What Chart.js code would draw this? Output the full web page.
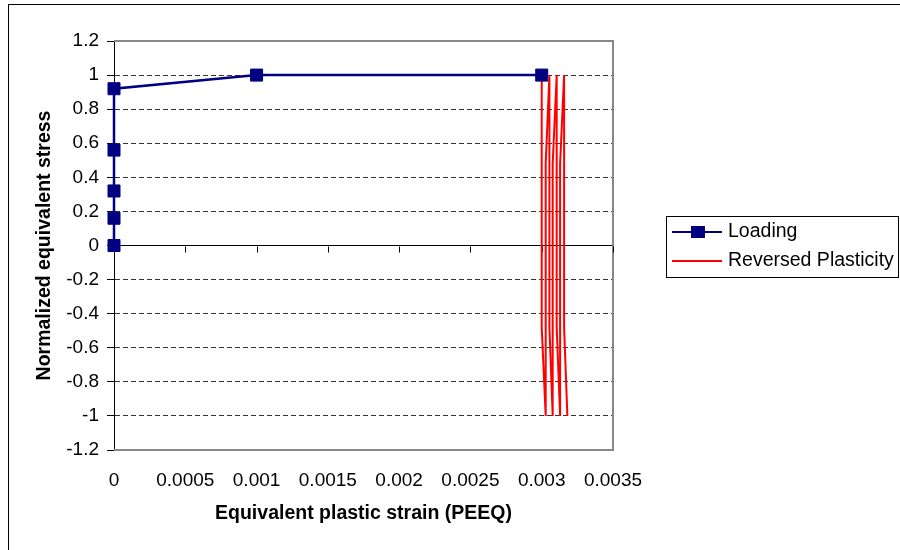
<!DOCTYPE html>
<html>
<head>
<meta charset="utf-8">
<script src="https://cdn.jsdelivr.net/npm/chart.js@4.4.1/dist/chart.umd.min.js"></script>
<style>
  html, body { margin: 0; padding: 0; background: #fff; }
  #wrap { width: 900px; height: 550px; }
</style>
</head>
<body>
<div id="wrap"><canvas id="chart" width="900" height="550"></canvas></div>
<script>
// Datos
const loadingX = [0, 0, 0, 0, 0, 0.001, 0.003];
const loadingY = [0, 0.16, 0.32, 0.56, 0.92, 1, 1];

const reversedX = [0.003, 0.003, 0.003028, 0.003028, 0.003054, 0.003054, 0.003077, 0.003077,
                   0.003105, 0.003105, 0.003129, 0.003129, 0.003157, 0.003157, 0.00318];
const reversedY = [1, -0.48, -1, 0.48, 1, -0.48, -1, 0.48, 1, -0.48, -1, 0.48, 1, -0.48, -1];

const seriesNames = ['Loading', 'Reversed Plasticity'];
const xTitle = 'Equivalent plastic strain (PEEQ)';
const yTitle = 'Normalized equivalent stress';

const FONT = "'Liberation Sans', Arial, sans-serif";
const navy = '#000080';
const red = '#ff0000';

function toPoints(xs, ys) {
  return xs.map((x, i) => ({ x: x, y: ys[i] }));
}

// Fondo, marco exterior, borde del área y marcas sobre el eje y=0
const framePlugin = {
  id: 'frame',
  beforeDraw(chart) {
    const ctx = chart.ctx;
    ctx.save();
    ctx.fillStyle = '#fff';
    ctx.fillRect(0, 0, chart.width, chart.height);
    ctx.strokeStyle = '#000';
    ctx.lineWidth = 1;
    ctx.strokeRect(8.5, 4.5, 1000, 1000);
    ctx.restore();
  },
  beforeDatasetsDraw(chart) {
    const { ctx, chartArea: a, scales } = chart;
    ctx.save();
    ctx.strokeStyle = '#888';
    ctx.lineWidth = 2;
    ctx.beginPath();
    ctx.moveTo(a.left, a.top);
    ctx.lineTo(a.right, a.top);
    ctx.lineTo(a.right, a.bottom);
    ctx.lineTo(a.left, a.bottom);
    ctx.stroke();
    // marcas del eje x sobre la línea cero
    const y0 = Math.round(scales.y.getPixelForValue(0)) + 0.5;
    ctx.strokeStyle = '#000';
    ctx.lineWidth = 1;
    ctx.beginPath();
    scales.x.ticks.forEach(t => {
      const px = Math.round(scales.x.getPixelForValue(t.value)) + 0.5;
      ctx.moveTo(px, y0);
      ctx.lineTo(px, y0 + 6);
    });
    ctx.stroke();
    ctx.restore();
  },
  afterDraw(chart) {
    const ctx = chart.ctx;
    ctx.save();
    ctx.strokeStyle = '#000';
    ctx.lineWidth = 1;
    ctx.strokeRect(666.5, 216.5, 232, 61);
    // muestra Loading
    ctx.strokeStyle = navy;
    ctx.lineWidth = 2;
    ctx.beginPath();
    ctx.moveTo(672, 232);
    ctx.lineTo(722, 232);
    ctx.stroke();
    ctx.fillStyle = navy;
    ctx.fillRect(691, 226, 14, 12);
    // muestra Reversed Plasticity
    ctx.strokeStyle = red;
    ctx.beginPath();
    ctx.moveTo(672, 261);
    ctx.lineTo(722, 261);
    ctx.stroke();
    ctx.fillStyle = '#000';
    ctx.font = '19.5px ' + FONT;
    ctx.textBaseline = 'middle';
    ctx.textAlign = 'left';
    ctx.fillText(seriesNames[0], 728, 232);
    ctx.fillText(seriesNames[1], 728, 261);
    ctx.restore();
  }
};

new Chart(document.getElementById('chart'), {
  type: 'scatter',
  data: {
    datasets: [{
      label: seriesNames[0],
      data: toPoints(loadingX, loadingY),
      showLine: true,
      borderColor: navy,
      borderWidth: 2.5,
      backgroundColor: navy,
      pointStyle: 'rect',
      pointRadius: 8.5,
      pointBorderWidth: 1,
      pointBorderColor: navy,
      pointBackgroundColor: navy,
      clip: false
    }, {
      label: seriesNames[1],
      data: toPoints(reversedX, reversedY),
      showLine: true,
      borderColor: red,
      borderWidth: 2,
      pointRadius: 0,
      tension: 0
    }]
  },
  options: {
    responsive: false,
    animation: false,
    devicePixelRatio: 1,
    layout: { padding: { left: 0, top: 41, right: 287, bottom: 0 }, autoPadding: false },
    plugins: {
      legend: { display: false },
      tooltip: { enabled: false }
    },
    scales: {
      x: {
        type: 'linear',
        position: 'bottom',
        min: 0,
        max: 0.0035,
        afterFit: s => { s.height = 100; },
        ticks: {
          stepSize: 0.0005,
          padding: 11,
          color: '#000',
          font: { family: FONT, size: 19 },
          maxRotation: 0,
          autoSkip: false,
          callback: v => String(+v.toFixed(4))
        },
        grid: { display: false },
        border: { display: false },
        title: {
          display: true,
          text: xTitle,
          color: '#000',
          font: { family: FONT, size: 19.5, weight: 'bold' },
          padding: { top: 0, bottom: 25 }
        }
      },
      y: {
        type: 'linear',
        min: -1.2,
        max: 1.2,
        afterFit: s => { s.width = 114; },
        ticks: {
          stepSize: 0.2,
          padding: 8,
          color: '#000',
          font: { family: FONT, size: 19 },
          autoSkip: false,
          callback: v => (Math.abs(v) < 1e-9 ? '0' : String(+v.toFixed(1)))
        },
        grid: {
          color: c => {
            const v = c.tick ? c.tick.value : null;
            if (v === null || Math.abs(Math.abs(v) - 1.2) < 1e-6) return 'rgba(0,0,0,0)';
            return Math.abs(v) < 1e-9 ? '#000' : '#333';
          },
          lineWidth: 1,
          tickColor: '#000',
          tickLength: 7
        },
        border: {
          display: true,
          color: '#000',
          width: 1,
          dash: c => (c.tick && Math.abs(c.tick.value) > 1e-9 ? [5, 3] : [])
        },
        title: {
          display: true,
          text: yTitle,
          color: '#000',
          font: { family: FONT, size: 19.5, weight: 'bold' },
          padding: { top: 33, bottom: 0 }
        }
      }
    }
  },
  plugins: [framePlugin]
});
</script>
</body>
</html>
